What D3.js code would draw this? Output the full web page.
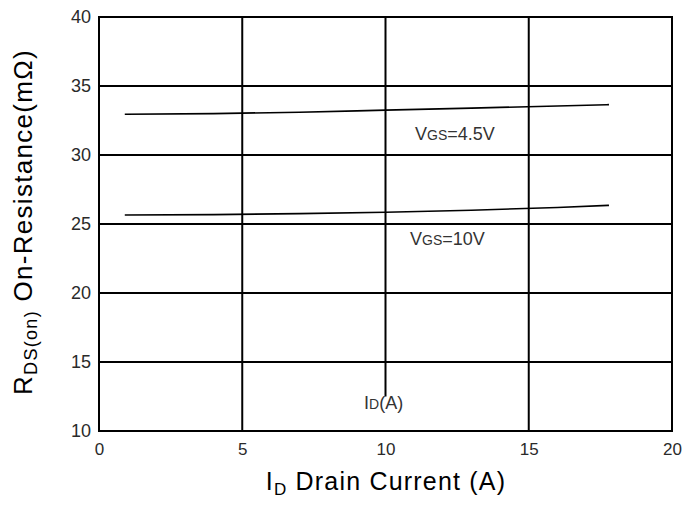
<!DOCTYPE html>
<html><head><meta charset="utf-8">
<script src="https://cdn.jsdelivr.net/npm/d3@7"></script>
<style>body{margin:0;background:#fff}svg{display:block}text{font-family:Arial,"Liberation Sans",sans-serif}</style>
</head><body><svg id="c" width="693" height="511"></svg>
<script>
const xTicks = [0, 5, 10, 15, 20];
const yTicks = [10, 15, 20, 25, 30, 35, 40];
const idVals = [0.9, 4, 7, 10, 13, 16, 17.8];
const rds45 = [32.95, 33.0, 33.1, 33.25, 33.4, 33.55, 33.65];
const rds10 = [25.65, 25.68, 25.75, 25.85, 26.0, 26.2, 26.35];
const series = [{name: "4.5V", values: rds45}, {name: "10V", values: rds10}];

const svg = d3.select("#c");
const m = {l: 99, r: 672, t: 17, b: 431};
const x = d3.scaleLinear().domain([0, 20]).range([m.l, m.r]);
const y = d3.scaleLinear().domain([10, 40]).range([m.b, m.t]);
const FF = "Arial,'Liberation Sans',sans-serif";

// gridlines
const g = svg.append("g").attr("stroke", "#000").attr("stroke-width", 2);
yTicks.forEach(t => g.append("line").attr("x1", m.l).attr("x2", m.r).attr("y1", y(t)).attr("y2", y(t)));
[5, 15].forEach(t => g.append("line").attr("x1", x(t)).attr("x2", x(t)).attr("y1", m.t).attr("y2", m.b));
g.append("line").attr("x1", x(10)).attr("x2", x(10)).attr("y1", m.t).attr("y2", y(12.5));
g.append("rect").attr("x", m.l).attr("y", m.t).attr("width", m.r - m.l).attr("height", m.b - m.t).attr("fill", "none");

// axes (labels only)
const ya = svg.append("g").attr("transform", `translate(${m.l},0)`)
  .call(d3.axisLeft(y).tickValues(yTicks).tickSize(0).tickPadding(8));
ya.select(".domain").remove();
ya.selectAll("text").attr("font-size", 18).attr("fill", "#2a2a2a").attr("font-family", FF);
const xa = svg.append("g").attr("transform", `translate(0,${m.b})`)
  .call(d3.axisBottom(x).tickValues(xTicks).tickSize(0).tickPadding(12));
xa.select(".domain").remove();
xa.selectAll("text").attr("font-size", 17).attr("fill", "#2a2a2a").attr("font-family", FF);

// lines
const line = d3.line().x((d, i) => x(idVals[i])).y(d => y(d)).curve(d3.curveMonotoneX);
series.forEach(s => svg.append("path").datum(s.values).attr("d", line)
  .attr("fill", "none").attr("stroke", "#000").attr("stroke-width", 1.6));

// annotations
function vgs(xp, yp, val) {
  const t = svg.append("text").attr("x", xp).attr("y", yp).attr("font-size", 18).attr("fill", "#333");
  t.append("tspan").text("V");
  t.append("tspan").attr("font-size", 14).text("GS");
  t.append("tspan").text("=" + val);
}
vgs(415, 140, "4.5V");
vgs(410, 245, "10V");
const idt = svg.append("text").attr("x", 364).attr("y", 409).attr("font-size", 18).attr("fill", "#333");
idt.append("tspan").text("I");
idt.append("tspan").attr("font-size", 14).text("D");
idt.append("tspan").text("(A)");

// axis titles
const xt = svg.append("text").attr("x", 386).attr("y", 490).attr("text-anchor", "middle").attr("font-size", 25).attr("letter-spacing", 1.2).attr("fill", "#000");
xt.append("tspan").text("I");
xt.append("tspan").attr("font-size", 17).attr("dy", 5).text("D");
xt.append("tspan").attr("dy", -5).text(" Drain Current (A)");

const yt = svg.append("text").attr("transform", "translate(32,222) rotate(-90)").attr("text-anchor", "middle").attr("font-size", 26).attr("letter-spacing", 1.3).attr("fill", "#000");
yt.append("tspan").text("R");
yt.append("tspan").attr("font-size", 18).attr("dy", 5).text("DS(on)");
yt.append("tspan").attr("dy", -5).text(" On-Resistance(mΩ)");
</script></body></html>
